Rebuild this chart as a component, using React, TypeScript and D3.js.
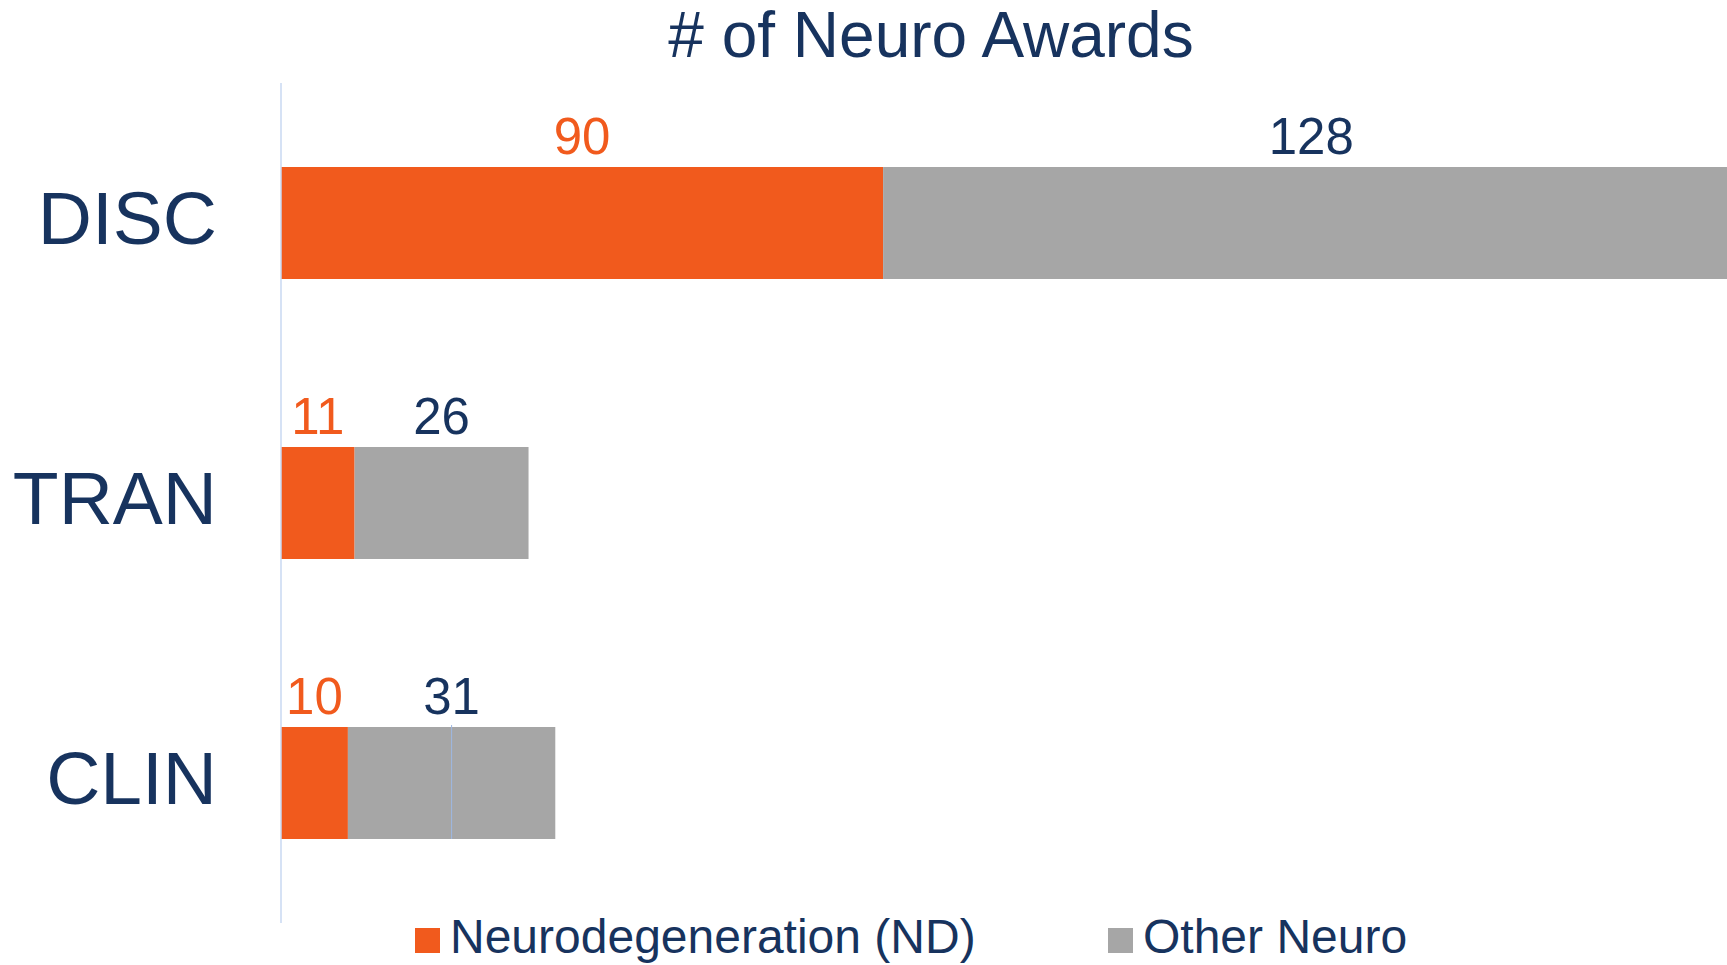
import React, { useEffect, useRef } from "react";
import * as d3 from "d3";

const categories = ["DISC", "TRAN", "CLIN"];
const ndValues = [90, 11, 10];
const otherValues = [128, 26, 31];
const seriesNames = ["Neurodegeneration (ND)", "Other Neuro"];

const ORANGE = "#f15a1d";
const GREY = "#a6a6a6";
const NAVY = "#17335e";
const FONT = "'Liberation Sans', Arial, sans-serif";

const App = () => {
  const svgRef = useRef<SVGSVGElement>(null);

  useEffect(() => {
    const width = 1727;
    const height = 965;
    const margin = { top: 83, left: 281, bottom: 42 };

    const svg = d3.select(svgRef.current);
    svg.selectAll("*").remove();
    svg.attr("width", width).attr("height", height);

    const rows = categories.map((c, i) => ({
      cat: c,
      nd: ndValues[i],
      other: otherValues[i],
    }));

    const x = d3
      .scaleLinear()
      .domain([0, 218])
      .range([margin.left, margin.left + 218 * 6.69]);

    const y = d3
      .scaleBand()
      .domain(categories)
      .range([margin.top, height - margin.bottom])
      .paddingInner(0.6)
      .paddingOuter(0.3);

    // title
    svg
      .append("text")
      .attr("x", 931)
      .attr("y", 57)
      .attr("text-anchor", "middle")
      .style("font-family", FONT)
      .style("font-size", "64px")
      .style("fill", NAVY)
      .text("# of Neuro Awards");

    // bars
    svg
      .selectAll(".bar-nd")
      .data(rows)
      .enter()
      .append("rect")
      .attr("x", x(0))
      .attr("y", (d) => y(d.cat)!)
      .attr("width", (d) => x(d.nd) - x(0))
      .attr("height", y.bandwidth())
      .attr("fill", ORANGE);

    svg
      .selectAll(".bar-other")
      .data(rows)
      .enter()
      .append("rect")
      .attr("x", (d) => x(d.nd))
      .attr("y", (d) => y(d.cat)!)
      .attr("width", (d) => x(d.nd + d.other) - x(d.nd))
      .attr("height", y.bandwidth())
      .attr("fill", GREY);

    // stray thin line inside CLIN bar
    const clin = rows[2];
    svg
      .append("line")
      .attr("x1", x(clin.nd + clin.other / 2))
      .attr("x2", x(clin.nd + clin.other / 2))
      .attr("y1", y(clin.cat)! - 2)
      .attr("y2", y(clin.cat)! + y.bandwidth())
      .attr("stroke", "#9db8e2")
      .attr("stroke-width", 1);

    // axis line
    svg
      .append("line")
      .attr("x1", x(0))
      .attr("x2", x(0))
      .attr("y1", margin.top)
      .attr("y2", height - margin.bottom)
      .attr("stroke", "#c9d8f2")
      .attr("stroke-width", 1.5);

    // category labels
    svg
      .selectAll(".cat")
      .data(rows)
      .enter()
      .append("text")
      .attr("x", 217)
      .attr("y", (d) => y(d.cat)! + y.bandwidth() / 2 + 21)
      .attr("text-anchor", "end")
      .style("font-family", FONT)
      .style("font-size", "75px")
      .style("fill", NAVY)
      .text((d) => d.cat);

    // value labels
    svg
      .selectAll(".lab-nd")
      .data(rows)
      .enter()
      .append("text")
      .attr("x", (d) => x(d.nd / 2))
      .attr("y", (d) => y(d.cat)! - 13)
      .attr("text-anchor", "middle")
      .style("font-family", FONT)
      .style("font-size", "51px")
      .style("fill", ORANGE)
      .text((d) => d.nd);

    svg
      .selectAll(".lab-other")
      .data(rows)
      .enter()
      .append("text")
      .attr("x", (d) => x(d.nd + d.other / 2))
      .attr("y", (d) => y(d.cat)! - 13)
      .attr("text-anchor", "middle")
      .style("font-family", FONT)
      .style("font-size", "51px")
      .style("fill", NAVY)
      .text((d) => d.other);

    // legend
    const legend = svg.append("g");
    const legendX = [415, 1108];
    const colors = [ORANGE, GREY];
    seriesNames.forEach((name, i) => {
      legend
        .append("rect")
        .attr("x", legendX[i])
        .attr("y", 928)
        .attr("width", 25)
        .attr("height", 25)
        .attr("fill", colors[i]);
      legend
        .append("text")
        .attr("x", legendX[i] + 35)
        .attr("y", 953)
        .style("font-family", FONT)
        .style("font-size", "48px")
        .style("fill", NAVY)
        .text(name);
    });
  }, []);

  return (
    <svg
      ref={svgRef}
      style={{ position: "absolute", left: 0, top: 0, overflow: "hidden" }}
    ></svg>
  );
};

export default App;
